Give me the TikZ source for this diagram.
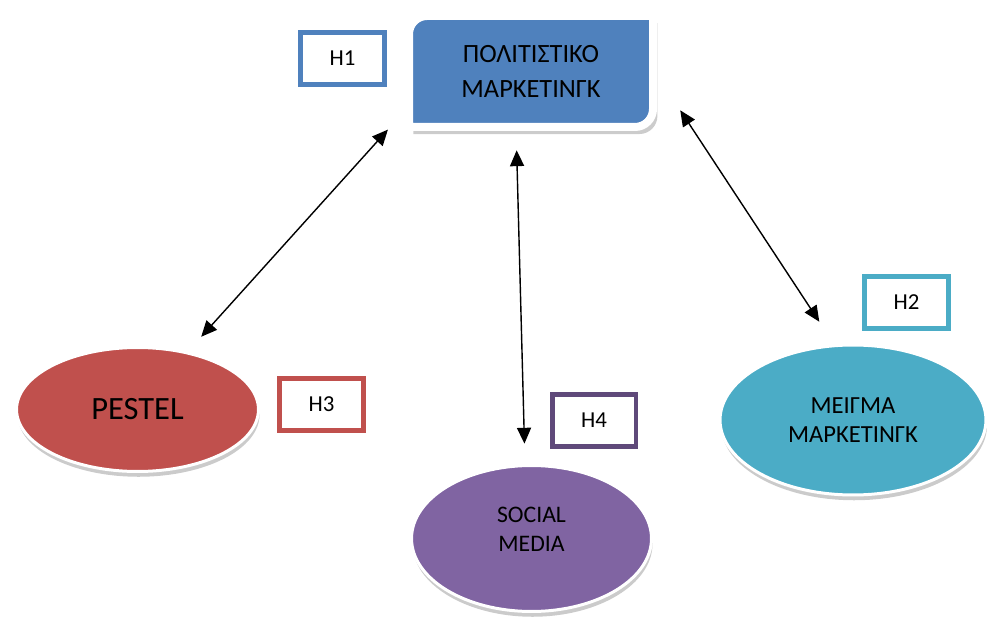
\documentclass[tikz,border=0pt]{standalone}
\usepackage{fontspec}
\setmainfont{Carlito}
\usetikzlibrary{arrows.meta,shapes.geometric,shadows}
\definecolor{polblue}{HTML}{4F81BD}
\definecolor{pestred}{HTML}{C0504D}
\definecolor{socpurple}{HTML}{8064A2}
\definecolor{mixcyan}{HTML}{4BACC6}
\definecolor{hpurple}{HTML}{5F497A}
\begin{document}
\begin{tikzpicture}[x=0.02cm,y=0.02cm,
  blob/.style={ellipse,draw=white,line width=0.06cm,inner sep=0,align=center,
    drop shadow={shadow xshift=0.6pt,shadow yshift=-3pt,opacity=0.45,fill=black!45}},
  hbox/.style={draw,line width=0.1cm,fill=white,minimum width=1.68cm,minimum height=1.04cm,
    inner sep=0,font=\fontsize{13}{15}\selectfont},
  link/.style={{Triangle[length=9pt,width=8pt]}-{Triangle[length=9pt,width=8pt]},line width=0.8pt}]
\useasboundingbox (0,0) rectangle (987,619);
\path[fill=polblue,draw=white,line width=0.16cm,
  preaction={fill=black!40,opacity=0.5,transform canvas={xshift=2.5pt,yshift=-4pt}}]
  (409,492) -- (409,585) arc[start angle=180,end angle=90,radius=0.36cm] -- (653,603)
  -- (653,510) arc[start angle=0,end angle=-90,radius=0.36cm] -- cycle;
\node[minimum width=4.88cm,minimum height=2.22cm,align=center,
  font=\fontsize{15}{20}\selectfont] (pol) at (531,547.5) {ΠΟΛΙΤΙΣΤΙΚΟ\\ΜΑΡΚΕΤΙΝΓΚ};
\node[blob,fill=pestred,minimum width=4.84cm,minimum height=2.48cm,
  font=\fontsize{18.5}{22}\selectfont] (pestel) at (137.5,209.5) {PESTEL};
\node[blob,fill=socpurple,minimum width=4.8cm,minimum height=2.92cm,
  font=\fontsize{13.5}{16.4}\selectfont] (social) at (531.5,80.5) {SOCIAL\\MEDIA\vphantom{g}\\[-6pt]};
\node[blob,fill=mixcyan,minimum width=5.32cm,minimum height=3cm,
  font=\fontsize{14}{16.5}\selectfont] (meigma) at (853,199) {ΜΕΙΓΜΑ\\ΜΑΡΚΕΤΙΝΓΚ};
\node[hbox,draw=polblue] (h1) at (342.5,560.5) {H1};
\node[hbox,draw=mixcyan] (h2) at (906.5,316.5) {H2};
\node[hbox,draw=pestred] (h3) at (321.5,214.5) {H3};
\node[hbox,draw=hpurple] (h4) at (594,198.5) {H4};
\draw[link,shorten <=0.62cm,shorten >=0.4cm] (pol.196) -- (pestel.49);
\draw[link,shorten <=0.46cm,shorten >=0.41cm] (pol.255) -- (social.95);
\draw[link,shorten <=0.98cm,shorten >=0.54cm] (pol.1) -- (meigma.104);
\end{tikzpicture}
\end{document}
